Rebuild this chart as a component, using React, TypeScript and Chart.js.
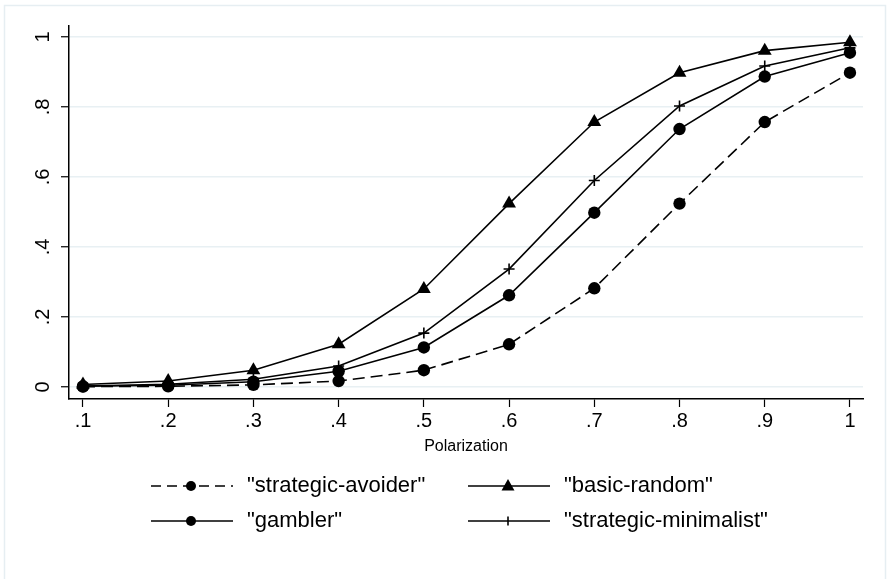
import React, { useEffect, useRef } from "react";
import { Chart, registerables } from "chart.js";

Chart.register(...registerables);

const xValues = [0.1, 0.2, 0.3, 0.4, 0.5, 0.6, 0.7, 0.8, 0.9, 1.0];
const xTickLabels = [".1", ".2", ".3", ".4", ".5", ".6", ".7", ".8", ".9", "1"];
const yTickValues = [0, 0.2, 0.4, 0.6, 0.8, 1.0];
const yTickLabels = ["0", ".2", ".4", ".6", ".8", "1"];

const strategicAvoider = [0.001, 0.002, 0.006, 0.017, 0.048, 0.122, 0.282, 0.524, 0.757, 0.898];
const gambler = [0.002, 0.005, 0.015, 0.045, 0.113, 0.262, 0.498, 0.737, 0.887, 0.955];
const basicRandom = [0.007, 0.017, 0.048, 0.122, 0.28, 0.524, 0.757, 0.898, 0.961, 0.985];
const strategicMinimalist = [0.003, 0.008, 0.022, 0.06, 0.154, 0.337, 0.59, 0.803, 0.917, 0.969];

const seriesNames = ['"strategic-avoider"', '"gambler"', '"basic-random"', '"strategic-minimalist"'];
const xTitle = "Polarization";

const FONT = '"Liberation Sans", Arial, Helvetica, sans-serif';

export default function App() {
  const ref = useRef<HTMLCanvasElement | null>(null);

  useEffect(() => {
    if (!ref.current) return;
    const toPts = (arr: number[]) => xValues.map((x, i) => ({ x, y: arr[i] }));

    const decorPlugin = {
      id: "decor",
      beforeDraw(chart: any) {
        const ctx = chart.ctx;
        ctx.save();
        ctx.fillStyle = "#ffffff";
        ctx.fillRect(0, 0, chart.width, chart.height);
        ctx.strokeStyle = "#e6eef2";
        ctx.lineWidth = 1.5;
        ctx.strokeRect(4.5, 5.5, 881, 640);
        ctx.restore();
      },
      afterDraw(chart: any) {
        const ctx = chart.ctx;
        const ys = chart.scales.y;
        ctx.save();
        ctx.fillStyle = "#000";
        ctx.font = `20px ${FONT}`;
        ctx.textAlign = "center";
        ctx.textBaseline = "middle";
        yTickValues.forEach((v, i) => {
          const py = ys.getPixelForValue(v);
          ctx.save();
          ctx.translate(43, py);
          ctx.rotate(-Math.PI / 2);
          ctx.fillText(yTickLabels[i], 0, 0);
          ctx.restore();
        });
        ctx.restore();

        // legend
        const items = [
          { name: seriesNames[0], dash: [10, 6], style: "circle", x: 151, y: 486 },
          { name: seriesNames[1], dash: [], style: "circle", x: 151, y: 521 },
          { name: seriesNames[2], dash: [], style: "triangle", x: 468, y: 486 },
          { name: seriesNames[3], dash: [], style: "cross", x: 468, y: 521 },
        ];
        items.forEach((it) => {
          ctx.save();
          ctx.strokeStyle = "#000";
          ctx.fillStyle = "#000";
          ctx.lineWidth = 1.6;
          ctx.setLineDash(it.dash);
          ctx.beginPath();
          ctx.moveTo(it.x, it.y);
          ctx.lineTo(it.x + 82, it.y);
          ctx.stroke();
          ctx.setLineDash([]);
          const mx = it.x + 40;
          if (it.style === "circle") {
            ctx.beginPath();
            ctx.arc(mx, it.y, 5, 0, Math.PI * 2);
            ctx.fill();
          } else if (it.style === "triangle") {
            ctx.beginPath();
            ctx.moveTo(mx, it.y - 7);
            ctx.lineTo(mx + 6.5, it.y + 4.5);
            ctx.lineTo(mx - 6.5, it.y + 4.5);
            ctx.closePath();
            ctx.fill();
          } else {
            ctx.lineWidth = 1.6;
            ctx.beginPath();
            ctx.moveTo(mx, it.y - 4.5);
            ctx.lineTo(mx, it.y + 4.5);
            ctx.stroke();
          }
          ctx.font = `22px ${FONT}`;
          ctx.textAlign = "left";
          ctx.textBaseline = "middle";
          ctx.fillText(it.name, it.x + 96, it.y);
          ctx.restore();
        });
      },
    };

    const common = {
      borderColor: "#000",
      backgroundColor: "#000",
      pointBackgroundColor: "#000",
      pointBorderColor: "#000",
      borderWidth: 1.6,
      tension: 0,
      fill: false,
    };

    const chart = new Chart(ref.current, {
      type: "line",
      data: {
        datasets: [
          { ...common, label: seriesNames[0], data: toPts(strategicAvoider), borderDash: [12, 6], pointStyle: "circle", pointRadius: 6.2, pointBorderWidth: 0 },
          { ...common, label: seriesNames[1], data: toPts(gambler), pointStyle: "circle", pointRadius: 6.2, pointBorderWidth: 0 },
          { ...common, label: seriesNames[2], data: toPts(basicRandom), pointStyle: "triangle", pointRadius: 8, pointBorderWidth: 0 },
          { ...common, label: seriesNames[3], data: toPts(strategicMinimalist), pointStyle: "cross", pointRadius: 5.5, pointBorderWidth: 1.6 },
        ],
      },
      options: {
        animation: false,
        responsive: false,
        maintainAspectRatio: false,
        layout: { padding: { left: 19, top: 26, right: 24, bottom: 123 } },
        plugins: { legend: { display: false }, tooltip: { enabled: false } },
        scales: {
          x: {
            type: "linear",
            min: 0.0836,
            max: 1.0153,
            afterBuildTicks: (s: any) => {
              s.ticks = xValues.map((v) => ({ value: v }));
            },
            afterFit: (s: any) => {
              s.height = 57;
            },
            ticks: {
              autoSkip: false,
              maxRotation: 0,
              minRotation: 0,
              padding: 2,
              color: "#000",
              font: { family: FONT, size: 20 },
              callback: (_v: any, i: number) => xTickLabels[i],
            },
            grid: { drawOnChartArea: false, drawTicks: true, tickLength: 8, tickColor: "#000", tickWidth: 1.2 },
            border: { display: true, color: "#000", width: 1.5 },
            title: { display: true, text: xTitle, color: "#000", font: { family: FONT, size: 16 }, padding: { top: 0, bottom: 0 } },
          },
          y: {
            type: "linear",
            min: -0.0343,
            max: 1.0314,
            afterBuildTicks: (s: any) => {
              s.ticks = yTickValues.map((v) => ({ value: v }));
            },
            afterFit: (s: any) => {
              s.width = 50;
            },
            ticks: { display: false },
            grid: { color: "#e8f0f3", lineWidth: 1.5, drawTicks: true, tickLength: 8, tickColor: "#000", tickWidth: 1.2 },
            border: { display: true, color: "#000", width: 1.5 },
          },
        },
      },
      plugins: [decorPlugin],
    } as any);
    return () => chart.destroy();
  }, []);

  return (
    <div style={{ position: "fixed", left: 0, top: 0, width: 887, height: 579, background: "#fff" }}>
      <canvas ref={ref} width={887} height={579} style={{ display: "block", width: 887, height: 579 }} />
    </div>
  );
}
